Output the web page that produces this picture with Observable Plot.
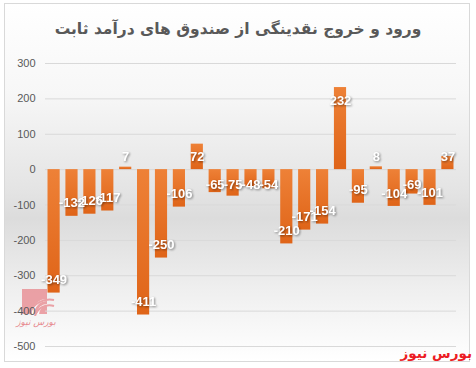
<!DOCTYPE html>
<html><head><meta charset="utf-8">
<script src="https://cdn.jsdelivr.net/npm/d3@7"></script>
<script src="https://cdn.jsdelivr.net/npm/@observablehq/plot@0.6"></script>
<style>
html,body{margin:0;padding:0;background:#fff;}
#wrap{position:relative;width:476px;height:368px;overflow:hidden;}
#box{position:absolute;left:4px;top:3px;width:464px;height:357px;border:1px solid #d9d9d9;
 background:linear-gradient(to bottom,#ffffff 0%,#f7f7f7 25%,#e4e4e4 52%,#dcdcdc 60%,#efefef 80%,#ffffff 100%);}
#title{position:absolute;left:0;top:20px;width:476px;text-align:center;font-family:"DejaVu Sans",sans-serif;font-weight:bold;font-size:15.5px;color:#595959;direction:rtl;}
#chart{position:absolute;left:0;top:0;}
#brand{position:absolute;right:4px;top:345px;font-family:"DejaVu Sans",sans-serif;font-weight:bold;font-size:13.5px;color:#ec1c24;direction:rtl;white-space:nowrap;}
#logo{position:absolute;left:21px;top:288px;opacity:0.75;}
#logotext{position:absolute;left:14px;top:317px;width:44px;text-align:center;font-family:"DejaVu Sans",sans-serif;font-style:italic;font-size:9px;color:#e0575f;opacity:0.7;direction:rtl;white-space:nowrap;}
</style></head>
<body>
<div id="wrap">
 <div id="box"></div>
 <svg id="logo" width="36" height="28" viewBox="0 0 36 28">
  <rect x="1" y="1" width="25" height="25" fill="#e8868c"/>
  <path d="M12 26 A14 14 0 0 1 26 12" fill="none" stroke="#fff" stroke-width="2.2"/>
  <path d="M17 26 A9 9 0 0 1 26 17" fill="none" stroke="#fff" stroke-width="2.2"/>
  <path d="M8 26 A22 22 0 0 1 33 12" fill="none" stroke="#e8868c" stroke-width="2"/>
  <path d="M14 28 A15 15 0 0 1 33 18" fill="none" stroke="#e8868c" stroke-width="2"/>
 </svg>
 <div id="logotext">بورس نیوز</div>
 <div id="title">ورود و خروج  نقدینگی از صندوق های درآمد ثابت</div>
 <div id="chart"></div>
 <div id="brand">بورس نیوز</div>
</div>
<script>
const categories = ["1","2","3","4","5","6","7","8","9","10","11","12","13","14","15","16","17","18","19","20","21","22","23"];
const values = [-349,-132,-126,-117,7,-411,-250,-106,72,-65,-75,-48,-54,-210,-171,-154,232,-95,8,-104,-69,-101,37];
const yTicks = [300,200,100,0,-100,-200,-300,-400,-500];

const data = categories.map((c,i)=>({c, v: values[i]}));
const pxPerUnit = (346-63)/800;
const lab = d => {
  const off = 13/pxPerUnit;
  if (d.v < 0) return Math.min(d.v + off, -15/pxPerUnit);
  return Math.max(d.v - off, 13/pxPerUnit);
};

const plot = Plot.plot({
  width: 476, height: 368,
  marginTop: 63, marginBottom: 22, marginLeft: 45, marginRight: 20,
  style: {background: "transparent", fontFamily: "'Liberation Sans', Arial, sans-serif", fontSize: "11px", color: "#595959"},
  x: {domain: categories, paddingInner: 0.32, paddingOuter: 0.14, round: false, axis: null},
  y: {domain: [-500, 300], ticks: yTicks, tickFormat: d => String(d), tickSize: 0, tickPadding: 10, label: null},
  marks: [
    Plot.ruleY(yTicks, {stroke: "#d9d9d9", strokeWidth: 1}),
    Plot.barY(data, {x: "c", y: "v", fill: "url(#barGrad)"}),
    Plot.text(data, {x: "c", y: lab, text: d => String(d.v), fill: "white", fontWeight: "bold", fontSize: 13, fontFamily: "'Liberation Sans', Arial, sans-serif", className: "vlab"})
  ]
});
const svg = d3.select(plot);
const defs = svg.insert("defs", ":first-child");
const g = defs.append("linearGradient").attr("id","barGrad").attr("x1",0).attr("y1",0).attr("x2",0).attr("y2",1);
g.append("stop").attr("offset","0%").attr("stop-color","#ee8137");
g.append("stop").attr("offset","100%").attr("stop-color","#df6418");
svg.selectAll("[aria-label='bar'] rect").attr("fill","url(#barGrad)");
svg.select(".vlab").style("filter","drop-shadow(1px 1px 1px rgba(0,0,0,0.45))");
svg.selectAll("[aria-label='y-axis tick label'] text").attr("fill","#595959");
document.getElementById("chart").appendChild(plot);
</script>
</body></html>
